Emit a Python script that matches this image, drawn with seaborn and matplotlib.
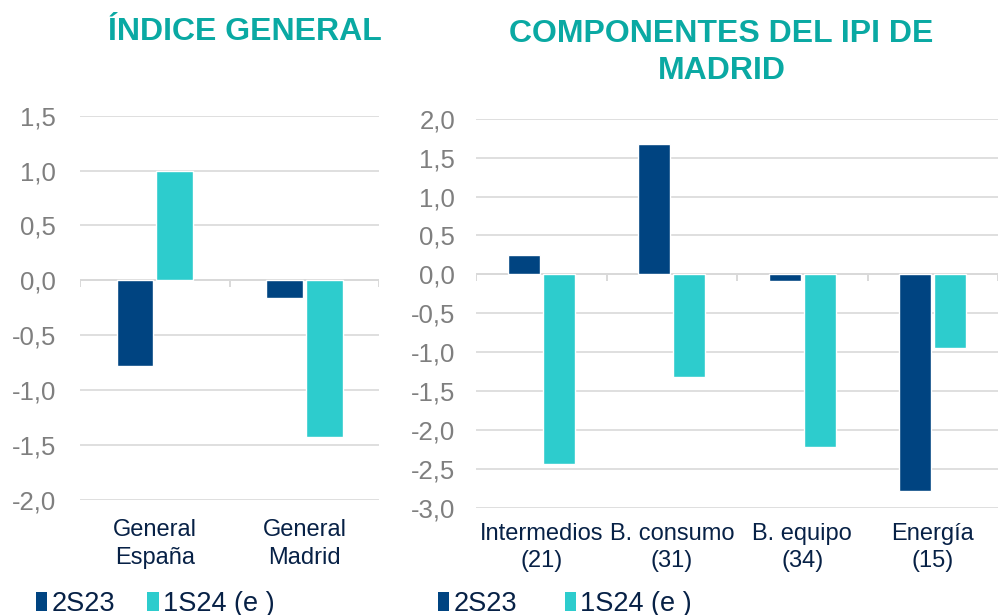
import pandas as pd
import seaborn as sns
import matplotlib.pyplot as plt
from matplotlib.patches import Patch

# data
series = ['2S23', '1S24 (e )']
left_cats = ['General\nEspaña', 'General\nMadrid']
left_2s23 = [-0.78, -0.16]
left_1s24 = [1.00, -1.43]

right_cats = ['Intermedios\n(21)', 'B. consumo\n(31)', 'B. equipo\n(34)', 'Energía\n(15)']
right_2s23 = [0.25, 1.68, -0.08, -2.78]
right_1s24 = [-2.43, -1.32, -2.22, -0.94]

colors = ['#004481', '#2DCCCD']
title_color = '#0AA9A3'
text_color = '#072146'
tick_color = '#7F7F7F'
grid_color = '#D9D9D9'

sns.set_theme(style='white')
plt.rcParams['font.family'] = ['Liberation Sans', 'DejaVu Sans']


def to_long(cats, a, b):
    return pd.DataFrame({
        'cat': cats * 2,
        'serie': [series[0]] * len(cats) + [series[1]] * len(cats),
        'val': a + b,
    })


def fmt(v):
    return f'{v:.1f}'.replace('.', ',')


def style_axes(ax, cats, ylim, yticks, pad, xpad):
    n = len(cats)
    ax.set_xlim(-0.5, n - 0.5)
    ax.set_ylim(*ylim)
    ax.set_yticks(yticks)
    ax.set_yticklabels([fmt(v) for v in yticks], color=tick_color, fontsize=18.5)
    ax.tick_params(axis='y', length=0, pad=pad)
    ax.set_xticks(range(n))
    ax.set_xticklabels(cats, color=text_color, fontsize=17, linespacing=1.3)
    ax.tick_params(axis='x', length=0, pad=xpad)
    ax.grid(axis='y', color=grid_color, lw=1.2, zorder=0)
    ax.set_axisbelow(True)
    for s in ax.spines.values():
        s.set_visible(False)
    ax.axhline(0, color=grid_color, lw=1.4, zorder=1)
    # small category boundary ticks under the zero line
    tick_len = (ylim[1] - ylim[0]) * 0.018
    ax.vlines([i - 0.5 for i in range(n + 1)], -tick_len, 0, color=grid_color, lw=1.4, zorder=1)
    ax.set_xlabel('')
    ax.set_ylabel('')


fig = plt.figure(figsize=(9.98, 6.15), dpi=100)
ax1 = fig.add_axes([0.080, 0.187, 0.300, 0.625])
ax2 = fig.add_axes([0.477, 0.174, 0.523, 0.633])

df1 = to_long(left_cats, left_2s23, left_1s24)
sns.barplot(data=df1, x='cat', y='val', hue='serie', palette=colors, width=0.53, gap=0.075,
            saturation=1, legend=False, ax=ax1, zorder=2)
style_axes(ax1, left_cats, (-2.0, 1.5), [-2.0, -1.5, -1.0, -0.5, 0.0, 0.5, 1.0, 1.5], 17, 14)

df2 = to_long(right_cats, right_2s23, right_1s24)
sns.barplot(data=df2, x='cat', y='val', hue='serie', palette=colors, width=0.53, gap=0.075,
            saturation=1, legend=False, ax=ax2, zorder=2)
style_axes(ax2, right_cats, (-3.0, 2.0), [-3.0, -2.5, -2.0, -1.5, -1.0, -0.5, 0.0, 0.5, 1.0, 1.5, 2.0], 15, 11)

fig.text(0.245, 0.948, 'ÍNDICE GENERAL', color=title_color, fontsize=23, fontweight='bold',
         ha='center', va='center')
fig.text(0.723, 0.914, 'COMPONENTES DEL IPI DE\nMADRID', color=title_color, fontsize=23,
         fontweight='bold', ha='center', va='center', linespacing=1.3)

handles = [Patch(facecolor=c, edgecolor='none') for c in colors]
for x0, colsp in ((0.036, 1.2), (0.439, 1.75)):
    fig.legend(handles, series, loc='center left', bbox_to_anchor=(x0, 0.018), ncol=2,
               frameon=False, fontsize=19.5, labelcolor=text_color, handlelength=0.42,
               handleheight=0.7, handletextpad=0.15, columnspacing=colsp, borderaxespad=0,
               borderpad=0)

fig.savefig('out.png', dpi=100)
